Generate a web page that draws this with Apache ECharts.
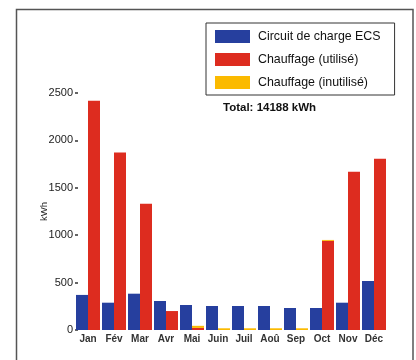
<!DOCTYPE html>
<html>
<head>
<meta charset="utf-8">
<script src="https://cdn.jsdelivr.net/npm/echarts@6/dist/echarts.min.js"></script>
<style>
html,body{margin:0;padding:0;background:#fff;}
#c{width:416px;height:360px;}
</style>
</head>
<body>
<div id="c"></div>
<script>
const months = ['Jan','Fév','Mar','Avr','Mai','Juin','Juil','Aoû','Sep','Oct','Nov','Déc'];
const ecsValues = [370, 288, 383, 306, 264, 253, 253, 253, 232, 232, 288, 517];
const heatUsed = [2418, 1872, 1331, 200, 22, 0, 0, 0, 0, 940, 1668, 1806];
const heatUnused = [0, 0, 0, 0, 22, 18, 18, 18, 18, 10, 0, 0];
const yTicks = [0, 500, 1000, 1500, 2000, 2500];
const seriesNames = ['Circuit de charge ECS', 'Chauffage (utilisé)', 'Chauffage (inutilisé)'];
const totalText = 'Total: 14188 kWh';
const yName = 'kWh';

const FONT = '"Liberation Sans", Arial, Helvetica, sans-serif';
const chart = echarts.init(document.getElementById('c'), null, {renderer: 'canvas'});
chart.setOption({
  backgroundColor: '#ffffff',
  animation: false,
  textStyle: {fontFamily: FONT},
  graphic: [
    {type: 'rect', shape: {x: 16.5, y: 9.5, width: 396.5, height: 400}, style: {fill: 'none', stroke: '#555', lineWidth: 1.5}, silent: true},
    {type: 'text', left: 223, top: 102, style: {text: totalText, font: 'bold 11.5px ' + FONT, fill: '#111'}}
  ],
  legend: {
    orient: 'vertical',
    left: 206,
    top: 23,
    padding: [7, 14, 6, 9],
    borderColor: '#333',
    borderWidth: 1,
    itemWidth: 35,
    itemHeight: 13,
    itemGap: 10,
    icon: 'rect',
    textStyle: {fontSize: 12.4, color: '#111', fontFamily: FONT, padding: [0, 0, 0, 3]},
    data: seriesNames
  },
  grid: {left: 75, right: 29, top: 93, bottom: 30},
  xAxis: {
    type: 'category',
    data: months,
    axisLine: {show: false},
    axisTick: {show: false},
    axisLabel: {fontSize: 10, color: '#333', margin: 4, interval: 0, fontWeight: 'bold'}
  },
  yAxis: {
    type: 'value',
    min: 0, max: 2500, interval: 500,
    name: yName,
    nameLocation: 'middle',
    nameGap: 26,
    nameMoveOverlap: false,
    nameTextStyle: {fontSize: 9.5, color: '#222'},
    splitLine: {show: false},
    axisLine: {show: false},
    axisTick: {show: true, inside: true, length: 3, lineStyle: {color: '#333', width: 1.5}},
    axisLabel: {fontSize: 11, color: '#222', margin: 2,
      formatter: v => yTicks.includes(v) ? String(v) : ''}
  },
  series: [
    {name: seriesNames[0], type: 'bar', data: ecsValues, barWidth: 12, barGap: '0%',
     itemStyle: {color: '#263f9e'}},
    {name: seriesNames[1], type: 'bar', stack: 'heat', data: heatUsed, barWidth: 12,
     itemStyle: {color: '#dd2c1f'}},
    {name: seriesNames[2], type: 'bar', stack: 'heat', data: heatUnused, barWidth: 12,
     itemStyle: {color: '#fbba00'}}
  ]
});
</script>
</body>
</html>
